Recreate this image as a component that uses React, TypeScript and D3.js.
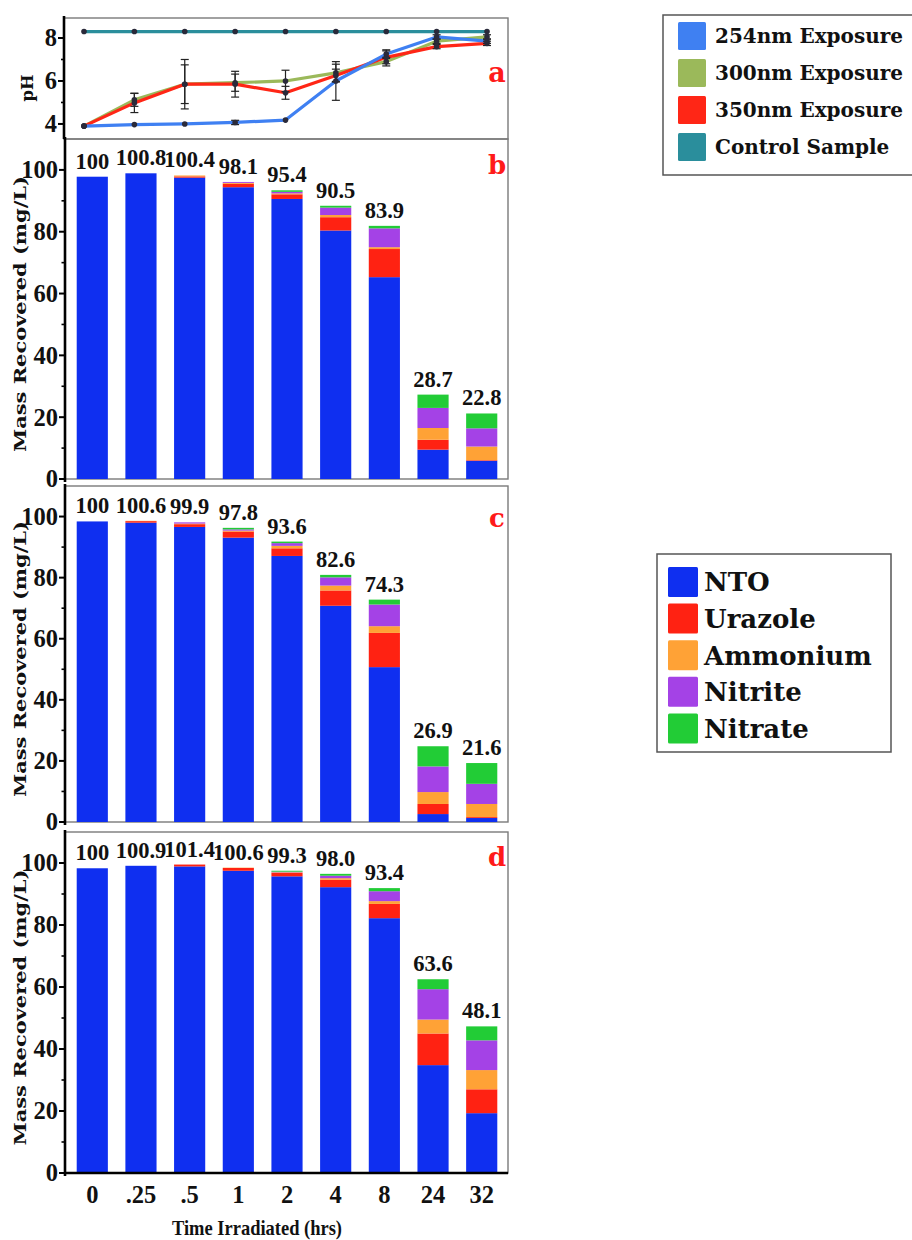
import React from "react";
import * as d3 from "d3";

// ---------- data ----------
const TIMES = ["0", ".25", ".5", "1", "2", "4", "8", "24", "32"];

const PH_254 = [3.9, 3.97, 4.0, 4.07, 4.18, 6.0, 7.25, 8.05, 7.85];
const PH_300 = [3.9, 5.12, 5.85, 5.92, 6.0, 6.38, 6.9, 7.85, 8.05];
const PH_350 = [3.9, 4.98, 5.85, 5.85, 5.45, 6.25, 7.1, 7.6, 7.75];
const PH_CTRL = [8.3, 8.3, 8.3, 8.3, 8.3, 8.3, 8.3, 8.3, 8.3];
const ERR_254 = [0.05, 0.05, 0.05, 0.1, 0.05, 0.9, 0.2, 0.1, 0.1];
const ERR_300 = [0.05, 0.3, 0.9, 0.4, 0.5, 0.4, 0.2, 0.1, 0.1];
const ERR_350 = [0.05, 0.45, 1.15, 0.6, 0.3, 0.3, 0.3, 0.1, 0.1];
const PH_TICKS = [4, 6, 8];

const SPECIES = ["NTO", "Urazole", "Ammonium", "Nitrite", "Nitrate"];
const SPECIES_COLORS = ["#0f2ff0", "#ff2212", "#ffa236", "#a442e6", "#22cc36"];

const PH_SERIES = ["254nm Exposure", "300nm Exposure", "350nm Exposure", "Control Sample"];
const PH_COLORS = ["#3f80f2", "#9bb95a", "#ff2616", "#2a8e9c"];

// panel b (254 nm)
const B_NTO = [97.8, 98.9, 97.5, 94.4, 90.6, 80.4, 65.3, 9.5, 5.9];
const B_URAZOLE = [0, 0, 0.4, 1.1, 1.5, 4.3, 9.1, 3.2, 0.2];
const B_AMMONIUM = [0, 0, 0.3, 0.3, 0.3, 0.7, 0.6, 3.8, 4.4];
const B_NITRITE = [0, 0, 0, 0.3, 0.5, 2.4, 6.1, 6.5, 5.9];
const B_NITRATE = [0, 0, 0, 0, 0.5, 0.6, 0.8, 4.3, 4.8];
const B_LABELS = ["100", "100.8", "100.4", "98.1", "95.4", "90.5", "83.9", "28.7", "22.8"];

// panel c (300 nm)
const C_NTO = [98.4, 98.0, 96.6, 93.1, 87.1, 70.8, 50.7, 2.6, 1.3];
const C_URAZOLE = [0, 0.5, 0.9, 2.0, 2.5, 5.0, 11.2, 3.3, 0.3];
const C_AMMONIUM = [0, 0.1, 0.2, 0.3, 0.8, 1.6, 2.2, 3.9, 4.3];
const C_NITRITE = [0, 0, 0.4, 0.4, 0.9, 2.7, 7.1, 8.4, 6.6];
const C_NITRATE = [0, 0, 0, 0.5, 0.5, 0.8, 1.6, 6.6, 6.8];
const C_LABELS = ["100", "100.6", "99.9", "97.8", "93.6", "82.6", "74.3", "26.9", "21.6"];

// panel d (350 nm)
const D_NTO = [98.3, 99.1, 98.9, 97.5, 95.7, 92.2, 82.2, 34.8, 19.3];
const D_URAZOLE = [0, 0, 0.6, 0.9, 1.1, 2.4, 4.6, 10.2, 7.7];
const D_AMMONIUM = [0, 0, 0, 0.1, 0.2, 0.5, 0.9, 4.5, 6.2];
const D_NITRITE = [0, 0, 0, 0, 0.2, 0.8, 3.2, 9.8, 9.6];
const D_NITRATE = [0, 0, 0, 0, 0.3, 0.6, 1.0, 3.2, 4.5];
const D_LABELS = ["100", "100.9", "101.4", "100.6", "99.3", "98.0", "93.4", "63.6", "48.1"];

const MASS_TICKS = [0, 20, 40, 60, 80, 100];
const MASS_MINOR = [10, 30, 50, 70, 90];

// ---------- layout ----------
const W = 912;
const H = 1240;
const LEFT = 65;
const RIGHT = 508;
const NUM_FONT = "'Liberation Serif', 'Times New Roman', serif";
const WORD_FONT = "'DejaVu Serif', serif";

const panels = [
  { letter: "b", top: 139, bottom: 479, series: [B_NTO, B_URAZOLE, B_AMMONIUM, B_NITRITE, B_NITRATE], labels: B_LABELS, letterY: 174 },
  { letter: "c", top: 486, bottom: 822, series: [C_NTO, C_URAZOLE, C_AMMONIUM, C_NITRITE, C_NITRATE], labels: C_LABELS, letterY: 527 },
  { letter: "d", top: 832, bottom: 1173, series: [D_NTO, D_URAZOLE, D_AMMONIUM, D_NITRITE, D_NITRATE], labels: D_LABELS, letterY: 866 },
];

const xBand = d3.scaleBand<string>().domain(TIMES).range([LEFT + 1, RIGHT]).paddingInner(0.36).paddingOuter(0.22);
const xPoint = d3.scalePoint<string>().domain(TIMES).range([84, 487]);
const yPH = d3.scaleLinear().domain([3.3, 8.93]).range([139, 18]);

function BarPanel({ p }: { p: (typeof panels)[number] }) {
  const y = d3.scaleLinear().domain([0, 110]).range([p.bottom, p.top]);
  const rows = TIMES.map((t, i) => {
    const r: any = { t };
    SPECIES.forEach((s, k) => (r[s] = p.series[k][i]));
    return r;
  });
  const stacked = d3.stack<any>().keys(SPECIES)(rows);
  const totals = rows.map((r) => d3.sum(SPECIES, (s) => r[s]));
  const midY = (p.top + p.bottom) / 2 + 5;
  return (
    <g>
      <rect x={LEFT} y={p.top} width={RIGHT - LEFT} height={p.bottom - p.top} fill="none" stroke="#7a7a7a" strokeWidth={1.4} />
      {stacked.map((layer, k) => (
        <g key={layer.key} fill={SPECIES_COLORS[k]}>
          {layer.map((d, i) =>
            d[1] - d[0] > 0 ? (
              <rect key={i} x={xBand(TIMES[i])} width={xBand.bandwidth()} y={y(d[1])} height={y(d[0]) - y(d[1])} />
            ) : null
          )}
        </g>
      ))}
      {p.labels.map((lab, i) => (
        <text
          key={i}
          x={(xBand(TIMES[i]) as number) + xBand.bandwidth() / 2}
          y={y(totals[i]) - 8}
          textAnchor="middle"
          fontFamily={NUM_FONT}
          fontWeight="bold"
          fontSize={22.5}
          fill="#111"
        >
          {lab}
        </text>
      ))}
      {/* left spine */}
      <line x1={LEFT} x2={LEFT} y1={p.top - 2} y2={p.bottom + 3} stroke="#000" strokeWidth={2.6} />
      {MASS_TICKS.map((t) => (
        <g key={t}>
          <line x1={LEFT - 6} x2={LEFT} y1={y(t)} y2={y(t)} stroke="#000" strokeWidth={2} />
          <text x={LEFT - 7} y={y(t)} dy="0.34em" textAnchor="end" fontFamily={NUM_FONT} fontWeight="bold" fontSize={24.5} fill="#111">
            {t}
          </text>
        </g>
      ))}
      {MASS_MINOR.map((t) => (
        <line key={t} x1={LEFT - 3.5} x2={LEFT} y1={y(t)} y2={y(t)} stroke="#000" strokeWidth={1.6} />
      ))}
      <text
        transform={`translate(26,${midY}) rotate(-90)`}
        textAnchor="middle"
        fontFamily={WORD_FONT}
        fontWeight="bold"
        fontSize={17.5}
        textLength={276}
        lengthAdjust="spacingAndGlyphs"
        fill="#111"
      >
        Mass Recovered (mg/L)
      </text>
      <text x={497} y={p.letterY} textAnchor="middle" fontFamily={WORD_FONT} fontWeight="bold" fontSize={26} fill="#ff1a1a">
        {p.letter}
      </text>
    </g>
  );
}

function PHPanel() {
  const line = d3
    .line<number>()
    .x((_, i) => xPoint(TIMES[i]) as number)
    .y((v) => yPH(v));
  const order = [
    { vals: PH_300, err: ERR_300, color: PH_COLORS[1] },
    { vals: PH_350, err: ERR_350, color: PH_COLORS[2] },
    { vals: PH_254, err: ERR_254, color: PH_COLORS[0] },
    { vals: PH_CTRL, err: PH_CTRL.map(() => 0.05), color: PH_COLORS[3] },
  ];
  return (
    <g>
      <rect x={LEFT - 1} y={18} width={RIGHT - LEFT + 1} height={139 - 18} fill="none" stroke="#7a7a7a" strokeWidth={1.4} />
      {order.map((s, k) => (
        <path key={k} d={line(s.vals) || ""} fill="none" stroke={s.color} strokeWidth={3.2} strokeLinejoin="round" />
      ))}
      {order.map((s, k) => (
        <g key={"e" + k} stroke="#222" strokeWidth={1.2}>
          {s.vals.map((v, i) => {
            const e = s.err[i];
            if (e < 0.08) return null;
            const cx = xPoint(TIMES[i]) as number;
            return (
              <g key={i}>
                <line x1={cx} x2={cx} y1={yPH(v - e)} y2={yPH(v + e)} />
                <line x1={cx - 4} x2={cx + 4} y1={yPH(v - e)} y2={yPH(v - e)} />
                <line x1={cx - 4} x2={cx + 4} y1={yPH(v + e)} y2={yPH(v + e)} />
              </g>
            );
          })}
        </g>
      ))}
      {order.map((s, k) => (
        <g key={"m" + k} fill="#2a2a3a">
          {s.vals.map((v, i) => (
            <circle key={i} cx={xPoint(TIMES[i]) as number} cy={yPH(v)} r={2.8} />
          ))}
        </g>
      ))}
      <line x1={LEFT - 1} x2={LEFT - 1} y1={16} y2={139} stroke="#000" strokeWidth={2.6} />
      {PH_TICKS.map((t) => (
        <g key={t}>
          <line x1={LEFT - 7} x2={LEFT - 1} y1={yPH(t)} y2={yPH(t)} stroke="#000" strokeWidth={2} />
          <text x={LEFT - 8} y={yPH(t)} dy="0.34em" textAnchor="end" fontFamily={NUM_FONT} fontWeight="bold" fontSize={24.5} fill="#111">
            {t}
          </text>
        </g>
      ))}
      {[5, 7].map((t) => (
        <line key={t} x1={LEFT - 4} x2={LEFT - 1} y1={yPH(t)} y2={yPH(t)} stroke="#000" strokeWidth={1.6} />
      ))}
      <text transform="translate(33,88) rotate(-90)" textAnchor="middle" fontFamily={WORD_FONT} fontWeight="bold" fontSize={16.5} fill="#111">
        pH
      </text>
      <text x={497} y={82} textAnchor="middle" fontFamily={WORD_FONT} fontWeight="bold" fontSize={27} fill="#ff1a1a">
        a
      </text>
    </g>
  );
}

function Legends() {
  return (
    <g>
      <rect x={663} y={15} width={260} height={160} fill="#fff" stroke="#555" strokeWidth={1.5} />
      {PH_SERIES.map((s, i) => {
        const cy = 36 + i * 37;
        return (
          <g key={s}>
            <rect x={678} y={cy - 14} width={28} height={28} fill={PH_COLORS[i]} rx={1.5} />
            <text x={715} y={cy} dy="0.36em" fontFamily={WORD_FONT} fontWeight="bold" fontSize={20} fill="#111">
              {s}
            </text>
          </g>
        );
      })}
      <rect x={657} y={554} width={234} height={198} fill="#fff" stroke="#555" strokeWidth={1.5} />
      {SPECIES.map((s, i) => {
        const cy = 582 + i * 36.6;
        return (
          <g key={s}>
            <rect x={668} y={cy - 15} width={30} height={30} fill={SPECIES_COLORS[i]} rx={1.5} />
            <text x={704} y={cy} dy="0.36em" fontFamily={WORD_FONT} fontWeight="bold" fontSize={26} fill="#111">
              {s}
            </text>
          </g>
        );
      })}
    </g>
  );
}

export default function App() {
  const last = panels[2];
  return (
    <svg width={W} height={H} style={{ position: "absolute", left: 0, top: 0, background: "#fff" }}>
      <rect width={W} height={H} fill="#fff" />
      <PHPanel />
      {panels.map((p) => (
        <BarPanel key={p.letter} p={p} />
      ))}
      <line x1={LEFT} x2={RIGHT} y1={last.bottom} y2={last.bottom} stroke="#000" strokeWidth={2.4} />
      {TIMES.map((t) => (
        <text
          key={t}
          x={(xBand(t) as number) + xBand.bandwidth() / 2}
          y={1203}
          textAnchor="middle"
          fontFamily={NUM_FONT}
          fontWeight="bold"
          fontSize={24.5}
          fill="#111"
        >
          {t}
        </text>
      ))}
      <text x={257} y={1235} textAnchor="middle" fontFamily={NUM_FONT} fontWeight="bold" fontSize={22} textLength={170} lengthAdjust="spacingAndGlyphs" fill="#111">
        Time Irradiated (hrs)
      </text>
      <Legends />
    </svg>
  );
}
